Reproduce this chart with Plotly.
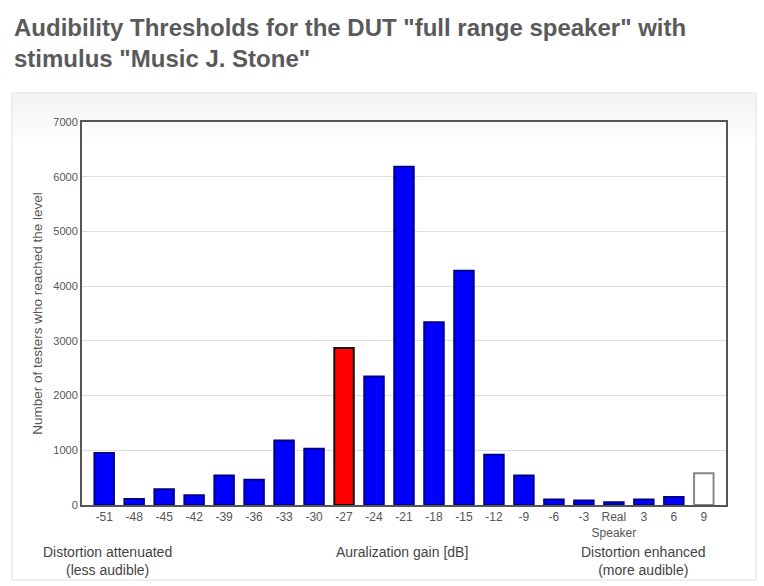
import plotly.graph_objects as go

categories = ["-51", "-48", "-45", "-42", "-39", "-36", "-33", "-30", "-27", "-24",
              "-21", "-18", "-15", "-12", "-9", "-6", "-3", "Real<br>Speaker", "3", "6", "9"]
testers = [950, 110, 290, 180, 540, 460, 1180, 1030, 2870, 2350,
           6180, 3340, 4280, 920, 540, 100, 80, 50, 100, 145, 580]
your_result = "-27"
open_level = "9"

fills = []
borders = []
widths = []
for c in categories:
    if c == your_result:
        fills.append("#ff0000"); borders.append("#111111"); widths.append(2)
    elif c == open_level:
        fills.append("#ffffff"); borders.append("#888888"); widths.append(2)
    else:
        fills.append("#0000ff"); borders.append("#00008b"); widths.append(2)

fig = go.Figure()
fig.add_trace(go.Bar(
    x=categories, y=testers,
    marker=dict(color=fills, line=dict(color=borders, width=widths)),
    hoverinfo="x+y",
))

L, R, T, B = 82, 38, 122, 81
W, H = 764, 586
pw, ph = W - L - R, H - T - B

def px(xp):
    return (xp - L) / pw

def py(yp):
    return (H - B - yp) / ph

shapes = [
    dict(type="rect", xref="paper", yref="paper", x0=px(12), x1=px(756), y0=py(580), y1=py(93),
         line=dict(color="#dddddd", width=1), fillcolor="#ffffff", layer="below"),
]
# soft grey gradient at the top of the card
steps = 12
for i in range(steps):
    y0p = 94 + i * 4
    shapes.append(dict(type="rect", xref="paper", yref="paper",
                       x0=px(13), x1=px(755), y0=py(y0p + 4), y1=py(y0p),
                       line=dict(width=0), fillcolor="rgba(0,0,0,%.4f)" % (0.045 * (1 - i / steps)),
                       layer="below"))

annotations = [
    dict(x=px(12), y=py(12), xref="paper", yref="paper",
         text='Audibility Thresholds for the DUT "full range speaker" with<br>stimulus "Music J. Stone"',
         showarrow=False, xanchor="left", yanchor="top", align="left",
         font=dict(size=24, color="#5a5a5a", family="Liberation Sans, Arial, sans-serif", weight="bold")),
    dict(x=your_result, y=testers[categories.index(your_result)], xref="x", yref="y",
         text="Your<br>Result", showarrow=False, yanchor="bottom", yshift=6,
         font=dict(size=13, color="#555555")),
    dict(x=px(107), y=py(560.5), xref="paper", yref="paper", text="Distortion attenuated<br>(less audible)",
         showarrow=False, xanchor="center", yanchor="middle", font=dict(size=14, color="#444444")),
    dict(x=px(402), y=py(552), xref="paper", yref="paper", text="Auralization gain [dB]",
         showarrow=False, xanchor="center", yanchor="middle", font=dict(size=14, color="#444444")),
    dict(x=px(643), y=py(560.5), xref="paper", yref="paper", text="Distortion enhanced<br>(more audible)",
         showarrow=False, xanchor="center", yanchor="middle", font=dict(size=14, color="#444444")),
]

fig.update_layout(
    width=W, height=H,
    margin=dict(l=L, r=R, t=T, b=B),
    paper_bgcolor="#ffffff",
    plot_bgcolor="#ffffff",
    font=dict(family="Liberation Sans, Arial, sans-serif", color="#555555"),
    showlegend=False,
    bargap=0.35,
    shapes=shapes,
    annotations=annotations,
    xaxis=dict(type="category", range=[-0.74, 20.74], showline=True, mirror=True,
               linecolor="#555555", linewidth=2, showgrid=False, ticks="",
               tickfont=dict(size=12, color="#555555"), fixedrange=True),
    yaxis=dict(range=[0, 7000], dtick=1000, showline=True, mirror=True,
               linecolor="#555555", linewidth=2, gridcolor="#dddddd", zeroline=False,
               ticks="", tickfont=dict(size=11, color="#555555"),
               title=dict(text="Number of testers who reached the level",
                          font=dict(size=13.5, color="#555555"), standoff=8),
               fixedrange=True),
)

fig.write_html("out.html", config={"displayModeBar": False},
               post_script="document.body.style.margin='0px';document.body.style.overflow='hidden';")
